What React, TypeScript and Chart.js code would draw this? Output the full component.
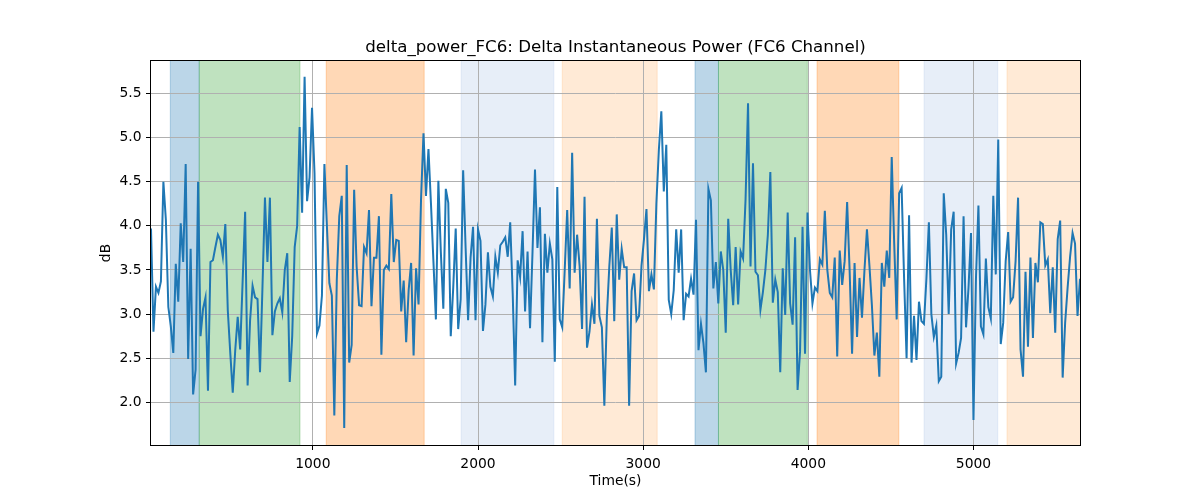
import React, { useEffect, useRef } from 'react';
import { Chart, registerables } from 'chart.js';

Chart.register(...registerables);

const TITLE = 'delta_power_FC6: Delta Instantaneous Power (FC6 Channel)';
const X_LABEL = 'Time(s)';
const Y_LABEL = 'dB';
const X_TICKS = [1000, 2000, 3000, 4000, 5000];
const Y_TICKS = [2.0, 2.5, 3.0, 3.5, 4.0, 4.5, 5.0, 5.5];
const Y_MIN = 1.516;
const Y_MAX = 5.869;

// sampling grid of the recording (seconds)
const SAMPLE_START = 20;
const SAMPLE_STEP = 15;

// delta power (dB), read left to right
const POWER_PART_1 = [3.97, 2.80, 3.31, 3.24, 3.37, 4.50, 4.07, 3.08, 2.86, 2.56, 3.57, 3.14, 4.03, 3.59, 4.70, 2.49, 3.74, 2.09, 2.37, 4.50, 2.75, 3.06, 3.19, 2.13, 3.59, 3.61, 3.76, 3.90, 3.84, 3.65, 4.02, 3.04, 2.56, 2.11, 2.59, 2.97, 2.60, 3.38, 4.16, 2.19, 2.93, 3.32, 3.19, 3.17, 2.34, 3.31, 4.32, 3.59, 4.32, 2.76, 3.03, 3.12, 3.18];
const POWER_PART_2 = [3.02, 3.50, 3.69, 2.23, 2.75, 3.76, 4.0, 5.12, 4.15, 5.69, 4.28, 4.55, 5.34, 4.6, 2.78, 2.87, 3.21, 4.70, 4.0, 3.35, 3.21, 1.85, 3.39, 4.11, 4.34, 1.71, 4.69, 2.45, 2.65, 4.41, 3.54, 3.10, 3.09, 3.76, 3.69, 4.18, 3.09, 3.64, 3.64, 4.11, 2.54, 3.50, 3.55, 3.51, 4.36, 3.59, 3.84, 3.83, 3.03, 3.38, 2.68, 3.27, 3.58, 2.53];
const POWER_PART_3 = [3.52, 3.11, 4.3, 5.05, 4.34, 4.87, 4.26, 3.6, 2.94, 4.51, 3.7, 3.06, 4.42, 4.26, 2.75, 3.3, 3.97, 2.83, 3.17, 4.63, 3.75, 2.93, 3.64, 3.99, 2.93, 3.96, 3.83, 2.81, 3.11, 3.70, 3.31, 3.20, 3.65, 3.47, 3.78, 3.82, 3.87, 3.65, 4.04, 3.24, 2.19, 3.61, 3.42, 3.94, 3.03, 3.71, 2.84, 3.7, 4.64, 3.75, 4.21, 2.68, 3.91, 3.47];
const POWER_PART_4 = [3.80, 3.62, 2.46, 4.44, 2.94, 2.85, 3.5, 4.18, 3.29, 4.83, 3.47, 3.90, 3.55, 2.83, 4.33, 2.62, 2.80, 3.11, 2.89, 4.08, 2.98, 2.85, 1.96, 2.97, 3.54, 3.98, 2.92, 4.13, 3.39, 3.74, 3.53, 3.53, 1.96, 3.26, 3.46, 2.93, 2.98, 3.55, 3.85, 4.19, 3.26, 3.45, 3.28, 4.25, 4.86, 5.30, 4.39, 4.92, 3.16, 3.00, 3.27, 3.96, 3.47, 3.96];
const POWER_PART_5 = [2.93, 3.23, 3.20, 3.40, 3.22, 4.07, 2.59, 2.89, 2.67, 2.34, 4.42, 4.29, 3.29, 3.59, 3.12, 3.71, 3.5, 2.79, 4.08, 3.5, 3.10, 3.76, 3.11, 3.71, 3.63, 4.3, 5.39, 3.54, 4.71, 3.48, 3.44, 3.05, 3.25, 3.5, 3.9, 4.61, 3.13, 3.39, 3.25, 2.34, 3.52, 2.99, 4.15, 3.12, 2.88, 3.87, 2.14, 2.58, 3.99, 2.55, 4.15, 3.5, 3.12];
const POWER_PART_6 = [3.30, 3.26, 3.62, 3.56, 4.17, 3.5, 3.24, 3.19, 3.64, 2.52, 3.72, 3.33, 3.6, 4.27, 3.5, 2.55, 3.58, 2.74, 3.41, 2.96, 3.5, 3.96, 3.55, 3.1, 2.53, 2.79, 2.29, 3.58, 3.31, 3.72, 3.41, 4.78, 3.8, 2.94, 4.37, 4.43, 3.4, 2.50, 4.12, 2.45, 2.98, 2.48, 3.14, 2.92, 2.89, 3.4, 4.04, 3.0, 2.74, 2.87, 2.24, 2.29, 4.37, 3.9];
const POWER_PART_7 = [3.00, 3.96, 4.16, 2.44, 2.56, 2.73, 4.11, 2.85, 3.3, 3.92, 1.80, 3.4, 4.23, 2.86, 2.77, 3.63, 3.08, 2.95, 4.34, 3.45, 4.98, 2.66, 2.9, 3.6, 3.93, 3.14, 3.19, 3.6, 4.32, 2.60, 2.29, 3.48, 2.63, 3.64, 2.73, 3.58, 3.36, 4.04, 4.02, 3.55, 3.62, 3.01, 3.53, 2.79, 3.85, 4.06, 2.28, 2.9, 3.3, 3.65, 3.92, 3.80, 2.98, 3.40];

// shaded intervals (seconds)
const SPAN_START = [137, 312, 1081, 1898, 2510, 3314, 3456, 4053, 4701, 5203];
const SPAN_END = [312, 922, 1674, 2459, 3085, 3456, 3994, 4548, 5147, 5700];
const SPAN_COLOR = [
  'rgba(31,119,180,0.3)',
  'rgba(44,160,44,0.3)',
  'rgba(255,127,14,0.3)',
  'rgba(174,199,232,0.3)',
  'rgba(255,187,120,0.3)',
  'rgba(31,119,180,0.3)',
  'rgba(44,160,44,0.3)',
  'rgba(255,127,14,0.3)',
  'rgba(174,199,232,0.3)',
  'rgba(255,187,120,0.3)',
];

const POWER = [
  ...POWER_PART_1, ...POWER_PART_2, ...POWER_PART_3, ...POWER_PART_4,
  ...POWER_PART_5, ...POWER_PART_6, ...POWER_PART_7,
];
const TIMES = POWER.map((_, i) => SAMPLE_START + i * SAMPLE_STEP);

const FONT = '"DejaVu Sans", sans-serif';

const spanPlugin = {
  id: 'spans',
  beforeDraw(chart: any) {
    const { ctx, chartArea: a, scales } = chart;
    const xs = scales.x;
    ctx.save();
    ctx.beginPath();
    ctx.rect(a.left, a.top, a.right - a.left, a.bottom - a.top);
    ctx.clip();
    SPAN_START.forEach((s, i) => {
      const x0 = xs.getPixelForValue(s);
      const x1 = xs.getPixelForValue(SPAN_END[i]);
      ctx.fillStyle = SPAN_COLOR[i];
      ctx.fillRect(x0, a.top, x1 - x0, a.bottom - a.top);
      ctx.strokeStyle = SPAN_COLOR[i];
      ctx.lineWidth = 1;
      ctx.strokeRect(x0, a.top - 2, x1 - x0, a.bottom - a.top + 4);
    });
    ctx.restore();
  },
};

const framePlugin = {
  id: 'frame',
  afterDraw(chart: any) {
    const { ctx, chartArea: a } = chart;
    ctx.save();
    ctx.strokeStyle = '#000';
    ctx.lineWidth = 1;
    ctx.strokeRect(a.left - 0.5, a.top - 0.5, a.right - a.left + 1, a.bottom - a.top + 1);
    ctx.fillStyle = '#000';
    ctx.font = `16.67px ${FONT}`;
    ctx.textAlign = 'center';
    ctx.textBaseline = 'alphabetic';
    ctx.fillText(TITLE, (a.left + a.right) / 2, 52);
    ctx.font = `13.89px ${FONT}`;
    ctx.textBaseline = 'middle';
    ctx.fillText(X_LABEL, (a.left + a.right) / 2, 481);
    ctx.translate(106, (a.top + a.bottom) / 2);
    ctx.rotate(-Math.PI / 2);
    ctx.fillText(Y_LABEL, 0, 0);
    ctx.restore();
  },
};

export default function App() {
  const ref = useRef<HTMLCanvasElement | null>(null);
  useEffect(() => {
    if (!ref.current) return;
    const chart = new Chart(ref.current, {
      type: 'line',
      data: {
        datasets: [
          {
            data: TIMES.map((t, i) => ({ x: t, y: POWER[i] })),
            borderColor: '#1f77b4',
            borderWidth: 2,
            pointRadius: 0,
            tension: 0,
            fill: false,
          },
        ],
      },
      options: {
        animation: false,
        responsive: false,
        devicePixelRatio: 1,
        layout: { padding: { left: 0, top: 61, right: 120, bottom: 0 } },
        plugins: { legend: { display: false }, tooltip: { enabled: false }, title: { display: false } },
        scales: {
          x: {
            type: 'linear',
            min: TIMES[0],
            max: TIMES[TIMES.length - 1],
            afterBuildTicks: (scale: any) => {
              scale.ticks = X_TICKS.map((v) => ({ value: v }));
            },
            afterFit: (scale: any) => {
              scale.height = 55;
            },
            border: { display: false },
            grid: { color: '#b0b0b0', lineWidth: 1, drawTicks: true, tickLength: 5, tickColor: '#000', tickWidth: 1 },
            ticks: {
              autoSkip: false,
              maxRotation: 0,
              padding: 6,
              color: '#000',
              font: { family: FONT, size: 13.89 },
              callback: (v: any) => String(v),
            },
          },
          y: {
            type: 'linear',
            min: Y_MIN,
            max: Y_MAX,
            afterBuildTicks: (scale: any) => {
              scale.ticks = Y_TICKS.map((v) => ({ value: v }));
            },
            afterFit: (scale: any) => {
              scale.width = 151;
            },
            border: { display: false },
            grid: { color: '#b0b0b0', lineWidth: 1, drawTicks: true, tickLength: 5, tickColor: '#000', tickWidth: 1 },
            ticks: {
              autoSkip: false,
              padding: 4.5,
              color: '#000',
              font: { family: FONT, size: 13.89 },
              callback: (v: any) => Number(v).toFixed(1),
            },
          },
        },
      },
      plugins: [spanPlugin, framePlugin],
    });
    return () => chart.destroy();
  }, []);
  return (
    <div style={{ position: 'absolute', left: 0, top: 0, width: 1200, height: 500 }}>
      <canvas ref={ref} width={1200} height={500} style={{ display: 'block' }} />
    </div>
  );
}
